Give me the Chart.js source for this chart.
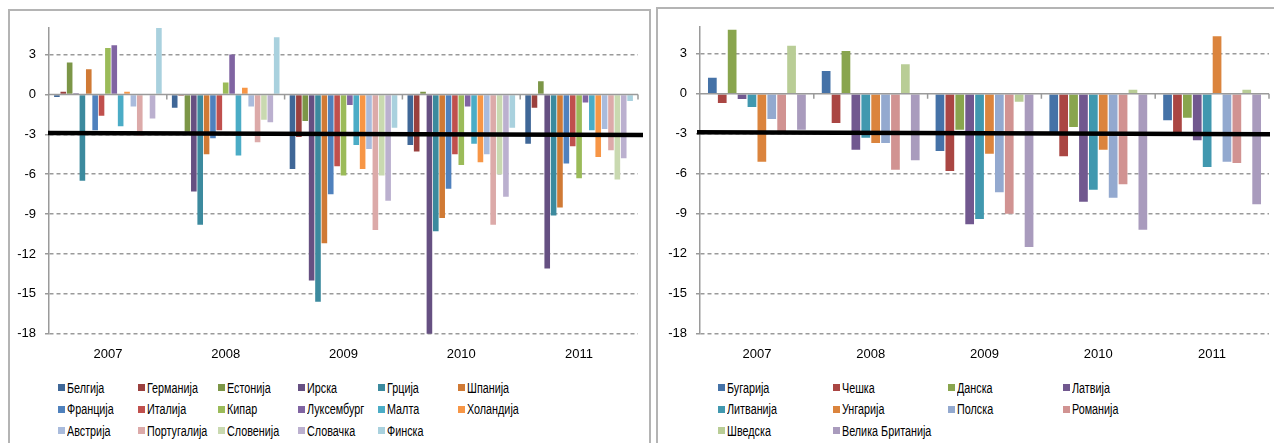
<!DOCTYPE html>
<html>
<head>
<meta charset="utf-8">
<script src="https://cdn.jsdelivr.net/npm/chart.js@4.4.1/dist/chart.umd.min.js"></script>
<style>
  body { margin: 0; width: 1274px; height: 443px; overflow: hidden; background: #fff; position: relative; }
  .panel { position: absolute; border: 2px solid #b4b4b4; border-bottom: none; box-sizing: border-box; height: 460px; }
  #panelEuro { left: 8px; top: 9px; width: 643px; }
  #panelOther { left: 656px; top: 7px; width: 630px; }
  .wrap { position: absolute; height: 360px; }
  #wrapEuro { left: 10px; top: 11px; width: 641px; }
  #wrapOther { left: 658px; top: 9px; width: 616px; }
  .legend { position: absolute; display: grid; font-family: "Liberation Sans", Arial, sans-serif; font-size: 14px; color: #000; }
  #legendEuro { left: 58px; top: 377px; grid-template-columns: repeat(6, 80px); }
  #legendOther { left: 718px; top: 377px; grid-template-columns: repeat(4, 115px); }
  .legend .item { display: flex; align-items: center; height: 21.5px; white-space: nowrap; }
  .legend .sw { width: 7px; height: 7px; margin-right: 1.5px; flex: none; }
  .legend .txt { display: inline-block; transform: scaleX(0.77); transform-origin: left center; }
</style>
</head>
<body>
<div class="panel" id="panelEuro"></div>
<div class="panel" id="panelOther"></div>
<div class="wrap" id="wrapEuro"><canvas id="chartEuro"></canvas></div>
<div class="wrap" id="wrapOther"><canvas id="chartOther"></canvas></div>
<div class="legend" id="legendEuro"></div>
<div class="legend" id="legendOther"></div>
<script>
const years = ['2007', '2008', '2009', '2010', '2011'];
const yTicks = [3, 0, -3, -6, -9, -12, -15, -18];
// reference line across both panels (start, end)
const refLine = [-2.9, -3.05];

// euro area, balance in % of GDP, 2007..2011
const belgium     = [-0.2, -1.0, -5.6, -3.8, -3.7];
const germany     = [0.2, -0.1, -3.2, -4.3, -1.0];
const estonia     = [2.4, -2.8, -2.0, 0.2, 1.0];
const ireland     = [0.1, -7.3, -14.0, -30.9, -13.1];
const greece      = [-6.5, -9.8, -15.6, -10.3, -9.1];
const spain       = [1.9, -4.5, -11.2, -9.3, -8.5];
const france      = [-2.7, -3.3, -7.5, -7.1, -5.2];
const italy       = [-1.6, -2.7, -5.4, -4.5, -3.9];
const cyprus      = [3.5, 0.9, -6.1, -5.3, -6.3];
const luxembourg  = [3.7, 3.0, -0.8, -0.9, -0.6];
const malta       = [-2.4, -4.6, -3.8, -3.7, -2.7];
const netherlands = [0.2, 0.5, -5.6, -5.1, -4.7];
const austria     = [-0.9, -0.9, -4.1, -4.5, -2.6];
const portugal    = [-3.1, -3.6, -10.2, -9.8, -4.2];
const slovenia    = [0.0, -1.9, -6.1, -6.0, -6.4];
const slovakia    = [-1.8, -2.1, -8.0, -7.7, -4.8];
const finland     = [5.3, 4.3, -2.5, -2.5, -0.5];

// other EU members
const bulgaria  = [1.2, 1.7, -4.3, -3.1, -2.0];
const czechia   = [-0.7, -2.2, -5.8, -4.7, -3.1];
const denmark   = [4.8, 3.2, -2.7, -2.5, -1.8];
const latvia    = [-0.4, -4.2, -9.8, -8.1, -3.5];
const lithuania = [-1.0, -3.3, -9.4, -7.2, -5.5];
const hungary   = [-5.1, -3.7, -4.5, -4.2, 4.3];
const poland    = [-1.9, -3.7, -7.4, -7.8, -5.1];
const romania   = [-2.9, -5.7, -9.0, -6.8, -5.2];
const sweden    = [3.6, 2.2, -0.6, 0.3, 0.3];
const uk        = [-2.7, -5.0, -11.5, -10.2, -8.3];

const euroNames = ['Белгија', 'Германија', 'Естонија', 'Ирска', 'Грција', 'Шпанија',
  'Франција', 'Италија', 'Кипар', 'Луксембург', 'Малта', 'Холандија',
  'Австрија', 'Португалија', 'Словенија', 'Словачка', 'Финска'];
const euroSeries = [belgium, germany, estonia, ireland, greece, spain, france, italy, cyprus,
  luxembourg, malta, netherlands, austria, portugal, slovenia, slovakia, finland];
const euroColors = ['#3f6797', '#9a403e', '#7c9647', '#665082', '#3c8a9e', '#d07a35',
  '#4f81bd', '#c0504d', '#9bbb59', '#8064a2', '#4bacc6', '#f79646',
  '#a9bbdc', '#dcaaa9', '#c9d9b0', '#bbb0cf', '#a9d1de'];

const otherNames = ['Бугарија', 'Чешка', 'Данска', 'Латвија', 'Литванија', 'Унгарија',
  'Полска', 'Романија', 'Шведска', 'Велика Британија'];
const otherSeries = [bulgaria, czechia, denmark, latvia, lithuania, hungary, poland, romania, sweden, uk];
const otherColors = ['#4572a7', '#aa4643', '#89a54e', '#71588f', '#4198af', '#db843d',
  '#93a9cf', '#d19392', '#b9cd96', '#a99bbd'];

const tickFont = { family: '"Liberation Sans", Arial, sans-serif', size: 13 };

// solid zero baseline with category tick marks, plus the thick reference line
const overlays = {
  id: 'overlays',
  afterDatasetsDraw(chart, args, opts) {
    const { ctx, chartArea, scales: { y } } = chart;
    const y0 = y.getPixelForValue(0);
    const w = (chartArea.right - chartArea.left) / years.length;
    ctx.save();
    ctx.strokeStyle = '#9a9a9a';
    ctx.lineWidth = 1.5;
    ctx.beginPath();
    ctx.moveTo(chartArea.left, y0);
    ctx.lineTo(chartArea.right, y0);
    for (let i = 1; i <= years.length; i++) {
      const px = chartArea.left + i * w;
      ctx.moveTo(px, y0);
      ctx.lineTo(px, y0 + 5);
    }
    ctx.stroke();

    ctx.strokeStyle = '#000';
    ctx.lineWidth = 4.5;
    ctx.beginPath();
    ctx.moveTo(chartArea.left + opts.lineStart, y.getPixelForValue(refLine[0]));
    ctx.lineTo(chartArea.right + opts.lineEnd, y.getPixelForValue(refLine[1]));
    ctx.stroke();
    ctx.restore();
  }
};

function buildChart(id, names, series, colors, opts) {
  const datasets = series.map((data, i) => ({
    label: names[i],
    data: data,
    backgroundColor: colors[i],
    borderWidth: 0,
  }));
  return new Chart(document.getElementById(id), {
    type: 'bar',
    data: { labels: years, datasets },
    plugins: [overlays],
    options: {
      responsive: true,
      maintainAspectRatio: false,
      animation: false,
      events: [],
      barPercentage: 0.88,
      categoryPercentage: opts.catPct,
      layout: { padding: { top: opts.padTop, right: opts.padRight, left: 0, bottom: 0 } },
      plugins: {
        legend: { display: false },
        tooltip: { enabled: false },
        overlays: { lineStart: opts.lineStart, lineEnd: opts.lineEnd },
      },
      scales: {
        x: {
          grid: { display: false, drawTicks: false },
          border: { display: false },
          ticks: { font: tickFont, color: '#000', padding: 13 },
          afterFit: (s) => { s.height = opts.xHeight; },
        },
        y: {
          min: -18,
          max: 5,
          ticks: { stepSize: 3, font: tickFont, color: '#000', padding: 9 },
          afterBuildTicks: (s) => { s.ticks = s.ticks.filter((t) => yTicks.includes(t.value)); },
          grid: {
            color: (c) => (c.tick && c.tick.value === 0 ? 'rgba(0,0,0,0)' : '#9a9a9a'),
            lineWidth: 1.5,
            tickLength: 4,
            tickColor: '#9a9a9a',
            tickBorderDash: [],
          },
          border: { display: true, color: '#9a9a9a', width: 1.5, dash: [4, 3] },
          afterFit: (s) => { s.width = opts.yWidth; },
        },
      },
    },
  });
}

buildChart('chartEuro', euroNames, euroSeries, euroColors,
  { padTop: 17, padRight: 13, yWidth: 39, xHeight: 37.3, catPct: 0.92, lineStart: -1, lineEnd: 5 });
buildChart('chartOther', otherNames, otherSeries, otherColors,
  { padTop: 18, padRight: 5, yWidth: 42, xHeight: 35.3, catPct: 0.87, lineStart: -3, lineEnd: 1 });

function buildLegend(id, names, colors) {
  const box = document.getElementById(id);
  names.forEach((name, i) => {
    const item = document.createElement('div');
    item.className = 'item';
    const sw = document.createElement('span');
    sw.className = 'sw';
    sw.style.background = colors[i];
    const txt = document.createElement('span');
    txt.className = 'txt';
    txt.textContent = name;
    item.appendChild(sw);
    item.appendChild(txt);
    box.appendChild(item);
  });
}
buildLegend('legendEuro', euroNames, euroColors);
buildLegend('legendOther', otherNames, otherColors);
</script>
</body>
</html>
